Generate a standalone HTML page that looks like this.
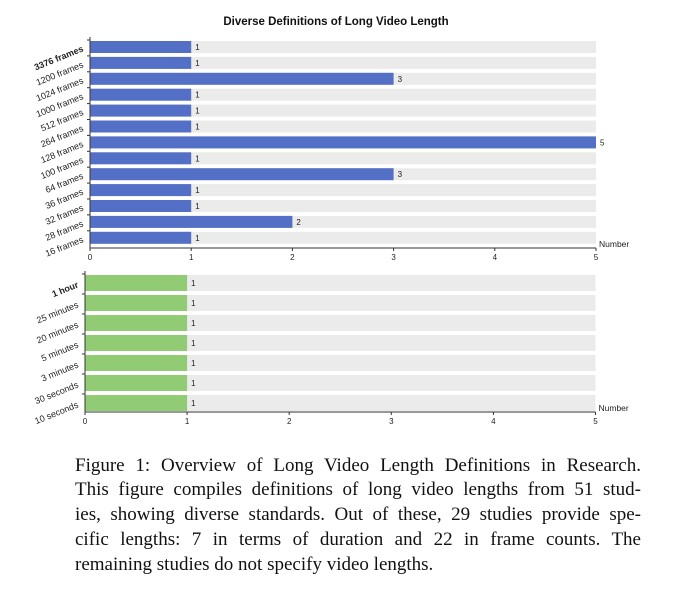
<!DOCTYPE html>
<html><head><meta charset="utf-8"><style>
body{margin:0;background:#fff;width:700px;height:604px;overflow:hidden;position:relative}
svg{position:absolute;left:0;top:0}
.cap{position:absolute;left:75px;width:566px;font-family:"Liberation Serif",serif;font-size:19px;color:#111;text-align:justify;text-align-last:justify;white-space:nowrap;line-height:24px}
</style></head><body>
<svg width="700" height="440" id="chart" font-family="Liberation Sans, DejaVu Sans, sans-serif">
<text x="336" y="25" text-anchor="middle" font-size="11.5" font-weight="bold" fill="#111">Diverse Definitions of Long Video Length</text>
</svg>
<div class="cap" style="top:454px">Figure 1: Overview of Long Video Length Definitions in Research.</div>
<div class="cap" style="top:478px">This figure compiles definitions of long video lengths from 51 stud-</div>
<div class="cap" style="top:503px">ies, showing diverse standards. Out of these, 29 studies provide spe-</div>
<div class="cap" style="top:528px">cific lengths: 7 in terms of duration and 22 in frame counts. The</div>
<div class="cap" style="top:553px;text-align-last:left">remaining studies do not specify video lengths.</div>
<script>
const frameCats=["3376 frames","1200 frames","1024 frames","1000 frames","512 frames","264 frames","128 frames","100 frames","64 frames","36 frames","32 frames","28 frames","16 frames"];
const frameVals=[1,1,3,1,1,1,5,1,3,1,1,2,1];
const durCats=["1 hour","25 minutes","20 minutes","5 minutes","3 minutes","30 seconds","10 seconds"];
const durVals=[1,1,1,1,1,1,1];
const xTicks=[0,1,2,3,4,5];
const svg=document.getElementById('chart');
const NS='http://www.w3.org/2000/svg';
function mk(t,a){const e=document.createElementNS(NS,t);for(const k in a)e.setAttribute(k,a[k]);svg.appendChild(e);return e;}
function panel(cats,vals,cfg){
  const x=v=>cfg.x0+(cfg.x1-cfg.x0)*v/5;
  const y=i=>cfg.y0+i*cfg.pitch;
  cats.forEach((c,i)=>{
    const bg=mk('rect',{x:x(0),y:y(i),width:x(5)-x(0),height:cfg.h,fill:'#ebebeb'});
    
    
    const r=mk('rect',{x:x(0),y:y(i),width:x(vals[i])-x(0),height:cfg.h,fill:cfg.color});
    
    
    const v=mk('text',{x:x(vals[i])+4,y:y(i)+cfg.h/2+3,'font-size':8,fill:'#222'});v.textContent=vals[i];
    
    
    const ty=y(i)+cfg.h/2+4;
    const l=mk('text',{x:x(0)-6,y:ty,'font-size':9,'text-anchor':'end',fill:'#222','font-weight':i==0?'bold':'normal',transform:`rotate(-22 ${x(0)-6} ${ty})`});l.textContent=c;
    
    
    mk('line',{x1:x(0)-3,x2:x(0),y1:y(i)-1,y2:y(i)-1,stroke:'#333','stroke-width':1});
  });
  mk('line',{x1:x(0),x2:x(0),y1:y(0)-4,y2:cfg.axisY,stroke:'#333','stroke-width':1});
  const ax=mk('line',{x1:x(0),x2:x(5),y1:cfg.axisY,y2:cfg.axisY,stroke:'#333','stroke-width':1});
  
  
  xTicks.forEach(t=>{
    mk('line',{x1:x(t),x2:x(t),y1:cfg.axisY,y2:cfg.axisY+3,stroke:'#333'});
    const tt=mk('text',{x:x(t),y:cfg.axisY+12,'font-size':8,'text-anchor':'middle',fill:'#222'});tt.textContent=t;
    
    
  });
  const n=mk('text',{x:x(5)+3,y:cfg.axisY-1,'font-size':8.5,fill:'#222'});n.textContent='Number';
  
  
}
panel(frameCats,frameVals,{x0:90,x1:596,y0:41,pitch:15.9,h:12,axisY:248,color:'#5470c6'});
panel(durCats,durVals,{x0:85,x1:595.5,y0:275,pitch:20,h:16,axisY:412,color:'#91cc75'});
</script>
</body></html>
